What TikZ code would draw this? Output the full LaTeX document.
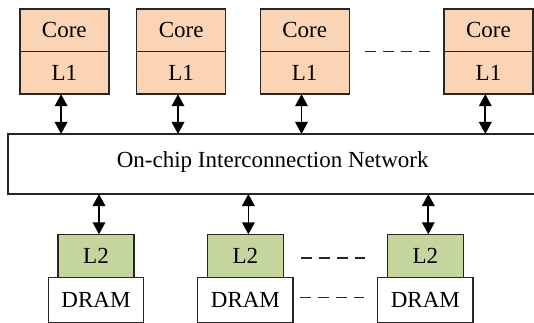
\documentclass[tikz,border=0pt]{standalone}
\usepackage{fontspec}
\setmainfont{Liberation Serif}
\usetikzlibrary{arrows.meta}
\definecolor{coreorange}{HTML}{FAD4B4}
\definecolor{ltwogreen}{HTML}{C4D69E}
\definecolor{edgegray}{HTML}{262626}
\begin{document}
\begin{tikzpicture}[x=1pt,y=-1pt,
  cell/.style={draw=edgegray,line width=1.4pt,inner sep=0pt,outer sep=0pt,
    font=\fontsize{23}{25}\selectfont},
  corecell/.style={cell,fill=coreorange,minimum width=89pt,minimum height=42.5pt},
  l2cell/.style={cell,fill=ltwogreen,minimum width=76pt,minimum height=43.4pt},
  dramcell/.style={cell,fill=white,minimum width=95.5pt,minimum height=44.6pt},
  dar/.style={line width=1.8pt,{Triangle[length=12pt,width=12.5pt]}-{Triangle[length=12pt,width=12.5pt]}},
  dsh/.style={line width=1.4pt,draw=edgegray,dash pattern=on 11pt off 7pt}]
\useasboundingbox (0,0) rectangle (534,323);
% network
\node[cell,fill=white,minimum width=534pt,minimum height=60pt,anchor=north west] (net) at (8,134) {};
\node[font=\fontsize{23}{25}\selectfont] (nettext) at (272.7,162) {On-chip Interconnection Network};
% top cores
\node[corecell] (c1) at (64.3,30.4) {Core};
\node[corecell,anchor=north] (l1a) at (c1.south) {L1};
\node[corecell] (c2) at (181.2,30.4) {Core};
\node[corecell,anchor=north] (l1b) at (c2.south) {L1};
\node[corecell] (c3) at (304.7,30.4) {Core};
\node[corecell,anchor=north] (l1c) at (c3.south) {L1};
\node[corecell] (c4) at (488.5,30.4) {Core};
\node[corecell,anchor=north] (l1d) at (c4.south) {L1};
% bottom L2 and DRAM
\node[l2cell] (l2a) at (96,256) {L2};
\node[dramcell,anchor=north] (da) at (l2a.south) {DRAM};
\node[l2cell] (l2b) at (245.4,256) {L2};
\node[dramcell,anchor=north] (db) at (l2b.south) {DRAM};
\node[l2cell] (l2c) at (425.3,256) {L2};
\node[dramcell,anchor=north] (dc) at (l2c.south) {DRAM};
% arrows top
\foreach \n in {l1a,l1b,l1c,l1d}
  \draw[dar] ([xshift=-3.2pt]\n.south) -- ([xshift=-3.2pt]\n.south |- net.north);
% arrows bottom
\foreach \n in {l2a,l2b,l2c}
  \draw[dar] ([xshift=3pt]\n.north |- net.south) -- ([xshift=3pt]\n.north);
% dashes
\draw[dsh] ([xshift=15.7pt]c3.south east) -- ([xshift=-12.3pt]c4.south west);
\draw[dsh] ([xshift=17.7pt,yshift=-2pt]l2b.east) -- ([xshift=-22.3pt,yshift=-2pt]l2c.west);
\draw[dsh] ([xshift=7pt,yshift=2.3pt]db.east) -- ([xshift=-14pt,yshift=2.3pt]dc.west);
\end{tikzpicture}
\end{document}
